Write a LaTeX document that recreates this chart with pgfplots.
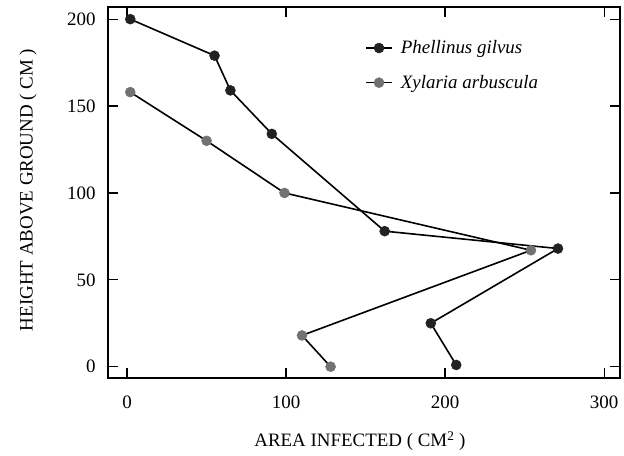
\documentclass[border=0pt]{standalone}
\usepackage{fontspec}
\setmainfont{Liberation Serif}
\usepackage{pgfplots}
\pgfplotsset{compat=1.18}
\definecolor{darkmark}{HTML}{222222}
\definecolor{graymark}{HTML}{727272}
\begin{document}
\begin{tikzpicture}
\begin{axis}[
  at={(0,0)}, anchor=south west,
  scale only axis, width=512bp, height=371bp,
  xmin=-12, xmax=310, ymin=-6.5, ymax=207,
  xtick={0,100,200,300}, ytick={0,50,100,150,200},
  xticklabels={0,100,200,300}, yticklabels={0,50,100,150,200},
  tick align=inside, major tick length=10bp,
  every tick/.style={black, line width=1.2bp},
  axis line style={line width=2.5bp},
  /pgf/number format/assume math mode=true,
  every tick label/.append style={font=\fontsize{19}{22}\selectfont},
  xticklabel style={anchor=center, yshift=-24bp},
  yticklabel style={anchor=east, xshift=-9bp},
  xlabel={AREA INFECTED ( CM\textsuperscript{2} )},
  ylabel={HEIGHT ABOVE GROUND ( CM )},
  xlabel style={at={(axis description cs:0.492,-0.170)}, anchor=center, font=\fontsize{19}{22}\selectfont},
  ylabel style={at={(axis description cs:-0.156,0.507)}, anchor=center, font=\fontsize{19}{22}\selectfont},
  legend style={draw=none, fill=none, at={(rel axis cs:0.502,0.915)}, anchor=north west,
    font=\fontsize{19}{22}\selectfont, row sep=16bp, column sep=6bp, inner sep=0pt},
  legend cell align=left,
  legend image code/.code={\draw[mark repeat=2,mark phase=2,#1] plot coordinates {(0bp,0bp) (13bp,0bp) (26bp,0bp)};},
]
\addplot[black, line width=1.6bp, mark=*, mark size=5bp, mark options={fill=darkmark, draw=darkmark, line width=0.5bp}]
  coordinates {(2,200) (55,179) (65,159) (91,134) (162,78) (271,68) (191,25) (207,1)};
\addlegendentry{\textit{Phellinus gilvus}}
\addplot[black, line width=1.6bp, mark=*, mark size=5bp, mark options={fill=graymark, draw=graymark, line width=0.5bp}]
  coordinates {(2,158) (50,130) (99,100) (254,67) (110,18) (128,0)};
\addlegendentry{\textit{Xylaria arbuscula}}
\end{axis}
\path[use as bounding box] (-108bp,-78bp) rectangle (516bp,378bp);
\end{tikzpicture}
\end{document}
